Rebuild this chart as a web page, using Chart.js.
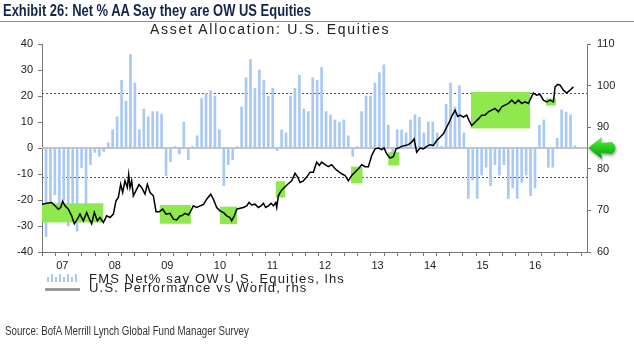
<!DOCTYPE html>
<html>
<head>
<meta charset="utf-8">
<script src="https://cdn.jsdelivr.net/npm/chart.js@4.4.1/dist/chart.umd.min.js"></script>
<style>
  body { margin: 0; background: #fff; }
  #wrap { position: relative; width: 634px; height: 354px; overflow: hidden; font-family: "Liberation Sans", Arial, sans-serif; }
  #c { position: absolute; left: 0; top: 0; }
  .t { position: absolute; white-space: nowrap; }
  #title { left: 3px; top: 2px; font: bold 16px "Liberation Sans", Arial, sans-serif; color: #13254a; transform: scaleX(0.81); transform-origin: 0 0; }
  #rule { position: absolute; left: 0; top: 21px; width: 634px; height: 1px; background: #7d90ad; }
  #sub { left: 150px; top: 21px; font-size: 14px; letter-spacing: 1.7px; color: #222; }
  .leg { left: 89px; font-size: 13px; letter-spacing: 1.2px; color: #222; line-height: 11px; }
  #src { left: 5px; top: 324px; font: 12px "Liberation Sans", Arial, sans-serif; color: #333; transform: scaleX(0.81); transform-origin: 0 0; }
  #barsIcon { position: absolute; left: 47px; top: 273px; width: 33px; height: 9px; display: flex; align-items: flex-end; gap: 2px; }
  #barsIcon span { width: 2px; background: #a9c8f4; }
  #lineIcon { position: absolute; left: 45px; top: 288px; width: 35px; height: 3px; background: #9a9a9a; }
</style>
</head>
<body>
<div id="wrap">
  <canvas id="c" width="634" height="354"></canvas>
  <div id="title" class="t">Exhibit 26: Net % AA Say they are OW US Equities</div>
  <div id="rule"></div>
  <div id="sub" class="t">Asset Allocation: U.S. Equities</div>
  <div id="barsIcon"></div>
  <div id="lineIcon"></div>
  <div class="t leg" style="top:273px">FMS Net% say OW U.S. Equities, lhs</div>
  <div class="t leg" style="top:282px">U.S. Performance vs World, rhs</div>
  <div id="src" class="t">Source: BofA Merrill Lynch Global Fund Manager Survey</div>
</div>
<script>
// FMS net % saying overweight US equities (lhs), one bar per month
const fmsNet = [
  -34, -22, -18, -22, -20, -30, -22, -32, -7.5, -28,
  -6.4, -1.7, -3.2, -1.3, 2, 7, 12, 26, 18, 36,
  25, 7, 15, 12, 14, 14, 13, -10.6, -5.3, 0.6,
  -2.3, 10, -4.5, 0.6, 4.7, 19, 21, 22, 20, 7,
  -14.5, -6.4, -4.5, 0.6, 15.8, 27, 34, 23, 30, 26,
  20, 23, -1, 7, 5.8, 20, 23, 28, 15, 14,
  27, 26, 31, 14, 12.7, 10.8, 9.9, 10.8, 4.7, -3.2,
  0.6, 14, 20, 20, 25, 29, 32, 8.8, -2, 7,
  7, 5.8, 10.8, 12.7, 11.8, 5.8, 10, 10, 5.8, 0.6,
  16.8, 25, 15.8, 24, 5.8, -19.4, -12.3, -19.4, -10.4, -7.4,
  -14.5, -6.4, -10.4, -6.4, -19.4, -15.4, -19.4, -13.2, -10.4, -18.3,
  -15.4, 8.8, 10.8, -7.4, -7.4, 3.7, 14.7, 13.8, 12.7, 0.9
];

// US performance vs world (rhs), position in months along the same axis
const perfX = [
  -0.9, 0.15, 1.27, 2.02, 2.77, 3.3, 3.75, 4.27, 5.02, 5.77, 6.37, 7.05, 7.65, 8.4, 9.15, 9.75,
  10.27, 10.87, 11.55, 12.15, 12.9, 13.65, 14.4, 15.15, 15.75, 16.27, 16.8, 17.25, 17.77, 18.3,
  18.6, 18.9, 19.27, 19.65, 20.4, 20.92, 21.52, 22.27, 22.8, 23.4, 24.15, 24.75, 25.5, 26.25,
  27, 27.9, 28.65, 29.4, 30.15, 30.52, 31.27, 32.02, 32.4, 33.15, 33.9, 34.65, 35.4, 36.15,
  37.05, 37.65, 38.4, 39.15, 39.9, 40.65, 41.4, 41.77, 42.37, 42.9, 43.65, 44.4, 45.15, 45.67,
  46.27, 47.02, 47.77, 48.37, 48.9, 49.42, 50.02, 50.62, 51.15, 51.67, 51.9, 52.27, 52.87,
  53.62, 54.37, 55.27, 56.02, 56.62, 57.15, 57.9, 58.65, 59.4, 60.14, 60.89, 61.49, 62.01,
  62.77, 63.52, 64.27, 65.02, 65.77, 66.52, 67.27, 68.02, 68.77, 69.52, 70.27, 71.02, 71.77,
  72.52, 73.27, 74.02, 74.77, 75.52, 76.04, 76.64, 77.39, 78.14, 78.74, 79.27, 80.02, 80.77,
  81.52, 82.27, 82.79, 83.39, 84.14, 84.89, 85.64, 86.39, 87.14, 87.89, 88.64, 89.39, 90.14,
  90.89, 91.26, 92.01, 92.61, 93.14, 93.89, 94.64, 95.16, 95.76, 96.51, 97.26, 98.01, 98.76,
  99.51, 100.27, 101.02, 101.77, 102.52, 103.27, 104.02, 104.77, 105.52, 106.27, 107.02,
  107.77, 108.52, 109.12, 109.64, 110.39, 111.14, 111.89, 112.64, 113.39, 114.14, 114.52,
  115.12, 115.64, 116.39, 117.14, 117.89, 118.64
];
const perfVal = [
  71.5, 71.7, 71.9, 71.1, 70.3, 70.7, 72.2, 71.1, 70.3, 68.7, 66.8, 67.9, 69.1, 67.5, 69.5, 67.9,
  66.8, 69.5, 67.5, 68.3, 67.1, 68.7, 68.3, 69.1, 72.3, 73.1, 76.3, 74.3, 77.1, 75.5,
  78.6, 75.5, 77.1, 73.5, 75.1, 76.2, 75.5, 73.9, 76.3, 74.3, 73.5, 69.7, 69.7, 70.3,
  69.1, 69.3, 67.9, 67.7, 68.7, 68.7, 69.3, 68.9, 69.5, 71.1, 70.7, 71.1, 71.4, 72.7,
  73.9, 72.7, 70.7, 69.9, 69.5, 68.7, 68.3, 67.5, 68.7, 70.3, 70.5, 70.7, 71.1, 71.9,
  71.3, 71.5, 70.7, 71.1, 71.7, 70.7, 71.1, 71.7, 71.1, 71.9, 70.7, 73.5, 74.7,
  75.5, 76.3, 77.1, 78.9, 78.0, 76.7, 77.1, 78.0, 79.2, 79.2, 81.6, 80.8, 81.6,
  81.0, 80.5, 81.0, 80.0, 79.4, 78.8, 78.4, 77.1, 78.4, 79.2, 80.0, 81.0, 80.5,
  80.5, 83.2, 84.8, 85.0, 84.6, 85.0, 83.6, 82.6, 82.9, 84.8, 85.0, 85.4, 85.6,
  85.8, 86.4, 87.2, 84.0, 85.0, 84.8, 85.4, 85.8, 85.6, 86.8, 87.6, 88.4, 90.0,
  91.6, 92.6, 94.1, 92.6, 92.9, 92.4, 92.9, 91.6, 90.4, 91.2, 92.0, 92.9, 92.9,
  93.7, 94.1, 94.5, 93.7, 94.9, 95.3, 95.7, 96.5, 95.7, 96.5, 95.7,
  96.1, 95.7, 97.1, 98.2, 97.7, 97.9, 96.5, 96.1, 96.5, 96.1, 99.7,
  100.3, 100.1, 98.9, 98.2, 98.9, 99.7
];

// highlighted periods: [from, to, rhs low, rhs high]
const greenBoxes = [
  [-0.9, 12.9, 67.1, 71.7],
  [25.6, 32.6, 66.8, 71.3],
  [39.1, 43.0, 66.7, 70.9],
  [51.7, 53.8, 73.1, 77.0],
  [68.6, 71.2, 76.5, 80.5],
  [77.0, 79.5, 80.8, 84.0],
  [95.6, 108.9, 89.7, 98.5],
  [112.5, 114.7, 95.2, 96.9]
];

const yearLabels = ['07', '08', '09', '10', '11', '12', '13', '14', '15', '16'];
const dottedLevels = [21, -11];

// legend bar icon
const icon = document.getElementById('barsIcon');
[5, 8, 5, 8, 5, 8, 5, 8].forEach(h => {
  const s = document.createElement('span');
  s.style.height = h + 'px';
  icon.appendChild(s);
});

const labelPos = yearLabels.map((_, k) => 3.66 + 11.82 * k);
const quarterPos = [];
for (let k = -1; k <= 40; k++) quarterPos.push(2.18 + 2.955 * k);

const overlay = {
  id: 'overlay',
  beforeDatasetsDraw(chart) {
    const { ctx, chartArea: a, scales } = chart;
    ctx.save();
    const y0 = Math.round(scales.y.getPixelForValue(0));
    ctx.strokeStyle = '#c4c4c4';
    ctx.lineWidth = 2;
    ctx.beginPath(); ctx.moveTo(a.left, y0); ctx.lineTo(a.right, y0); ctx.stroke();
    ctx.strokeStyle = '#555';
    ctx.lineWidth = 1;
    ctx.setLineDash([2, 2]);
    dottedLevels.forEach(v => {
      const y = Math.round(scales.y.getPixelForValue(v)) + 0.5;
      ctx.beginPath(); ctx.moveTo(a.left, y); ctx.lineTo(a.right, y); ctx.stroke();
    });
    ctx.restore();
  },
  afterDatasetDraw(chart, args) {
    if (args.index !== 0) return;
    const { ctx, chartArea: a, scales } = chart;
    ctx.save();
    ctx.beginPath(); ctx.rect(a.left, a.top, a.right - a.left, a.bottom - a.top); ctx.clip();
    ctx.fillStyle = '#8fe84d';
    greenBoxes.forEach(b => {
      const x0 = scales.x.getPixelForValue(b[0]), x1 = scales.x.getPixelForValue(b[1]);
      const yTop = scales.y1.getPixelForValue(b[3]), yBot = scales.y1.getPixelForValue(b[2]);
      ctx.fillRect(x0, yTop, x1 - x0, yBot - yTop);
    });
    ctx.restore();
  },
  afterDraw(chart) {
    // green pointer on the right axis at the zero line
    const { ctx, chartArea: a, scales } = chart;
    const tx = a.right + 1, ty = scales.y.getPixelForValue(0);
    ctx.save();
    ctx.shadowColor = 'rgba(0,0,0,0.35)';
    ctx.shadowBlur = 3; ctx.shadowOffsetX = 1; ctx.shadowOffsetY = 2;
    const g = ctx.createLinearGradient(0, ty - 11, 0, ty + 11);
    g.addColorStop(0, '#66f050'); g.addColorStop(0.5, '#22cc1a'); g.addColorStop(1, '#119910');
    ctx.fillStyle = g;
    ctx.beginPath();
    ctx.moveTo(tx, ty);
    ctx.lineTo(tx + 14, ty - 11);
    ctx.lineTo(tx + 13, ty - 5);
    ctx.lineTo(tx + 24, ty - 6);
    ctx.quadraticCurveTo(tx + 31, ty, tx + 24, ty + 6);
    ctx.lineTo(tx + 13, ty + 5);
    ctx.lineTo(tx + 14, ty + 11);
    ctx.closePath();
    ctx.fill();
    ctx.restore();
  }
};

const axisColor = '#777';
const tickFont = { family: '"Liberation Sans", Arial, sans-serif', size: 11 };

new Chart(document.getElementById('c'), {
  type: 'bar',
  data: {
    datasets: [{
      type: 'bar',
      data: fmsNet.map((v, i) => ({ x: i, y: v })),
      backgroundColor: '#a9c8f4',
      barThickness: 2,
      xAxisID: 'x',
      yAxisID: 'y',
      order: 2
    }, {
      type: 'line',
      data: perfX.map((x, i) => ({ x: x, y: perfVal[i] })),
      borderColor: '#000',
      borderWidth: 1.5,
      pointRadius: 0,
      tension: 0,
      xAxisID: 'x',
      yAxisID: 'y1',
      order: 1
    }]
  },
  options: {
    responsive: false,
    devicePixelRatio: 1,
    animation: false,
    layout: { padding: { top: 44, left: 0, right: 0, bottom: 0 } },
    plugins: { legend: { display: false }, tooltip: { enabled: false } },
    scales: {
      x: {
        type: 'linear', min: -0.9, max: 121.7, position: 'bottom', offset: false,
        afterBuildTicks: s => { s.ticks = quarterPos.map(v => ({ value: v })); },
        afterFit: s => { s.height = 5; },
        ticks: { callback: () => '', display: false },
        grid: { drawOnChartArea: false, tickLength: 4, color: axisColor, offset: false },
        border: { color: axisColor }
      },
      x2: {
        type: 'linear', min: -0.9, max: 121.7, position: 'bottom', offset: false,
        afterBuildTicks: s => { s.ticks = labelPos.map(v => ({ value: v })); },
        afterFit: s => { s.height = 97; },
        ticks: {
          callback: (v, i) => yearLabels[i],
          font: tickFont, color: '#222', padding: 2, maxRotation: 0, autoSkip: false
        },
        grid: { display: false, drawTicks: false },
        border: { display: false }
      },
      y: {
        position: 'left', min: -40, max: 40,
        afterFit: s => { s.width = 42; },
        ticks: { stepSize: 10, font: tickFont, color: '#222', padding: 5 },
        grid: { drawOnChartArea: false, tickLength: 4, color: axisColor },
        border: { color: axisColor }
      },
      y1: {
        position: 'right', min: 60, max: 110,
        afterFit: s => { s.width = 47; },
        ticks: { stepSize: 10, font: tickFont, color: '#222', padding: 6 },
        grid: { drawOnChartArea: false, tickLength: 4, color: axisColor },
        border: { color: axisColor }
      }
    }
  },
  plugins: [overlay]
});
</script>
</body>
</html>
